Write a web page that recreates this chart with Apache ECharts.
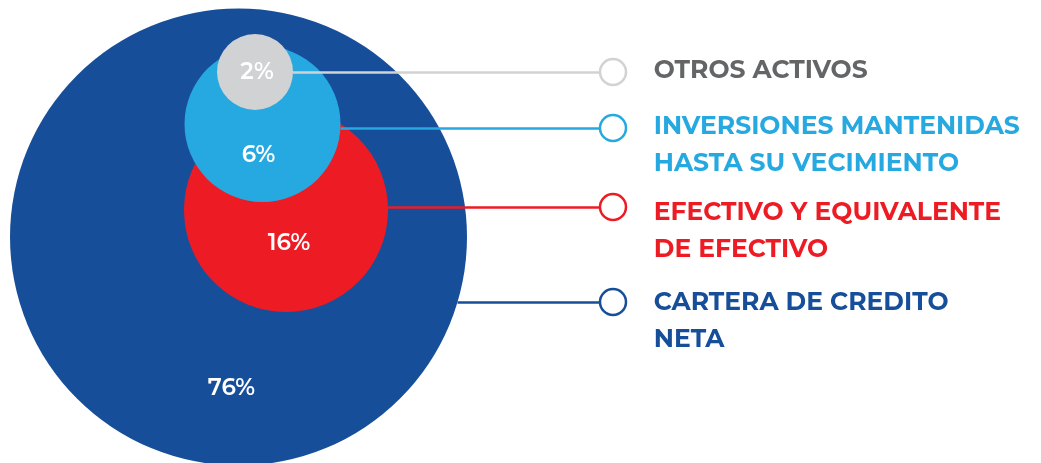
<!DOCTYPE html>
<html lang="es">
<head>
<meta charset="UTF-8" />
<title>Composición de activos</title>
<script src="https://cdn.jsdelivr.net/npm/echarts@6/dist/echarts.min.js"></script>
<style>
  html, body { margin: 0; padding: 0; background: #fff; }
  #chart { width: 1041px; height: 463px; }
</style>
</head>
<body>
<div id="chart"></div>
<script>
  // datos
  const categories = ['CARTERA DE CREDITO\nNETA', 'EFECTIVO Y EQUIVALENTE\nDE EFECTIVO', 'INVERSIONES MANTENIDAS\nHASTA SU VECIMIENTO', 'OTROS ACTIVOS'];
  const values = [76, 16, 6, 2];

  // colores
  const fillColors = ['#174e99', '#ed1c24', '#26a9e0', '#d1d2d4'];
  const textColors = ['#174e99', '#ed1c24', '#26a9e0', '#646567'];

  // disposición de las burbujas (px): centro, radio y desplazamiento de la etiqueta
  const bubbleLayout = [
    { cx: 238.5, cy: 237, r: 228.5, lx: -7, ly: 151 },
    { cx: 286, cy: 210, r: 102, lx: 3, ly: 33 },
    { cx: 262.5, cy: 124, r: 78, lx: -4, ly: 31 },
    { cx: 255, cy: 72, r: 38, lx: 2, ly: 0 }
  ];
  const legendX = 613;
  const legendY = [302, 207, 128, 72];
  const textY = [301.5, 211.5, 126, 69.5]; // centro de la primera línea de texto
  const lineHeight = 37;

  const chart = echarts.init(document.getElementById('chart'));

  const bubbles = values.map((v, i) => ({
    value: [bubbleLayout[i].cx, bubbleLayout[i].cy, v],
    symbolSize: bubbleLayout[i].r * 2,
    itemStyle: { color: fillColors[i], opacity: 1 },
    label: { offset: [bubbleLayout[i].lx, bubbleLayout[i].ly] }
  }));

  // el conector empieza en el borde de la burbuja, a la altura de la leyenda
  const connectors = values.map((v, i) => {
    const b = bubbleLayout[i];
    const dy = legendY[i] - b.cy;
    const x0 = b.cx + Math.sqrt(Math.max(b.r * b.r - dy * dy, 0));
    return {
      coords: [[x0, legendY[i]], [legendX - 13, legendY[i]]],
      lineStyle: { color: fillColors[i] }
    };
  });

  const markers = categories.map((c, i) => ({
    name: c,
    value: [legendX, legendY[i]],
    itemStyle: { color: '#fff', borderColor: fillColors[i], opacity: 1 },
    label: {
      color: textColors[i],
      position: [55, 13 - lineHeight / 2 + (textY[i] - legendY[i]) + 2]
    }
  }));

  chart.setOption({
    animation: false,
    grid: { left: 0, right: 0, top: 0, bottom: 0 },
    xAxis: { type: 'value', min: 0, max: 1041, show: false },
    yAxis: { type: 'value', min: 0, max: 463, inverse: true, show: false },
    series: [
      {
        type: 'scatter',
        clip: false,
        z: 1,
        data: bubbles,
        label: {
          show: true,
          position: 'inside',
          formatter: p => p.value[2] + '%',
          color: '#fff',
          fontFamily: 'Montserrat, Inter, sans-serif',
          fontWeight: 600,
          fontSize: 23
        }
      },
      {
        type: 'lines',
        coordinateSystem: 'cartesian2d',
        z: 2,
        lineStyle: { width: 2.5, opacity: 1 },
        data: connectors
      },
      {
        type: 'scatter',
        z: 3,
        symbol: 'circle',
        symbolSize: 26,
        itemStyle: { borderWidth: 2.5, opacity: 1 },
        data: markers,
        label: {
          show: true,
          align: 'left',
          verticalAlign: 'top',
          formatter: p => p.name,
          fontFamily: 'Montserrat, Inter, sans-serif',
          fontWeight: 700,
          fontSize: 25,
          lineHeight: lineHeight
        }
      }
    ]
  });
</script>
</body>
</html>
